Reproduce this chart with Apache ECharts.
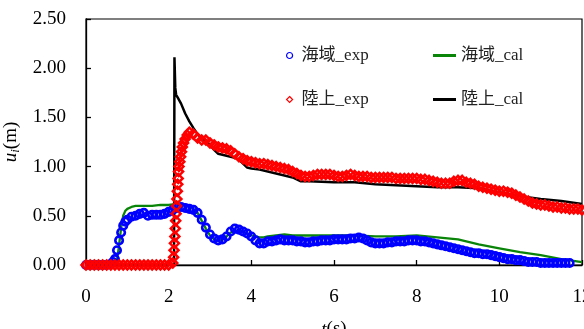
<!DOCTYPE html>
<html>
<head>
<meta charset="utf-8">
<script src="https://cdn.jsdelivr.net/npm/echarts@6/dist/echarts.min.js"></script>
<style>html,body{margin:0;padding:0;background:#fff}#c{width:584px;height:329px}</style>
</head>
<body>
<div id="c"></div>
<script>
const seriesNames = ['海域_exp', '陸上_exp', '海域_cal', '陸上_cal'];
const xTicks = [0, 2, 4, 6, 8, 10, 12];
const yTicks = [0, 0.5, 1.0, 1.5, 2.0, 2.5];

// 海域_exp (t, u)
const seaExp = [
[0.0,0],[0.1,0],[0.2,0],[0.3,0],[0.4,0],[0.5,0],[0.6,0.01],[0.65,0.03],[0.7,0.06],[0.75,0.15],[0.8,0.25],[0.85,0.33],[0.9,0.40],[0.95,0.44],[1.0,0.46],
[1.1,0.49],[1.2,0.50],[1.3,0.52],[1.4,0.53],[1.5,0.50],[1.6,0.51],[1.7,0.51],[1.8,0.51],[1.9,0.52],[2.0,0.54],[2.1,0.56],[2.2,0.58],[2.3,0.59],[2.4,0.58],
[2.5,0.57],[2.6,0.56],[2.7,0.53],[2.8,0.46],[2.9,0.38],[3.0,0.31],[3.1,0.27],[3.2,0.25],[3.3,0.26],[3.4,0.29],[3.5,0.34],[3.6,0.37],[3.7,0.36],[3.8,0.34],
[3.9,0.32],[4.0,0.29],[4.1,0.25],[4.2,0.22],[4.3,0.22],[4.4,0.24],[4.5,0.24],[4.6,0.25],[4.7,0.26],[4.8,0.25],[4.9,0.25],[5.0,0.25],[5.1,0.24],[5.2,0.24],
[5.3,0.23],[5.4,0.23],[5.5,0.24],[5.6,0.24],[5.7,0.25],[5.8,0.25],[5.9,0.25],[6.0,0.26],[6.1,0.26],[6.2,0.26],[6.3,0.26],[6.4,0.27],[6.5,0.27],[6.6,0.28],
[6.7,0.27],[6.8,0.25],[6.9,0.23],[7.0,0.22],[7.1,0.22],[7.2,0.22],[7.3,0.23],[7.4,0.23],[7.5,0.24],[7.6,0.24],[7.7,0.24],[7.8,0.25],[7.9,0.25],[8.0,0.25],
[8.1,0.24],[8.2,0.24],[8.3,0.23],[8.4,0.22],[8.5,0.21],[8.6,0.20],[8.7,0.19],[8.8,0.18],[8.9,0.17],[9.0,0.16],[9.1,0.15],[9.2,0.14],[9.3,0.13],[9.4,0.12],
[9.5,0.12],[9.6,0.11],[9.7,0.11],[9.8,0.10],[9.9,0.09],[10.0,0.08],[10.1,0.07],[10.2,0.06],[10.3,0.06],[10.4,0.05],[10.5,0.05],[10.6,0.04],[10.7,0.03],
[10.8,0.03],[10.9,0.03],[11.0,0.02],[11.1,0.02],[11.2,0.02],[11.3,0.02],[11.4,0.02],[11.5,0.02],[11.6,0.02],[11.7,0.02]
];

// 陸上_exp (t, u)
const landExp = [
[0.0,0],[0.1,0],[0.2,0],[0.3,0],[0.4,0],[0.5,0],[0.6,0],[0.7,0],[0.8,0],[0.9,0],[1.0,0],[1.1,0],[1.2,0],[1.3,0],[1.4,0],[1.5,0],[1.6,0],[1.7,0],[1.8,0],
[1.9,0],[2.0,0],[2.1,0.02],[2.12,0.08],[2.13,0.15],[2.14,0.22],[2.15,0.29],[2.16,0.37],[2.17,0.45],[2.18,0.52],[2.19,0.60],[2.2,0.67],[2.21,0.75],[2.22,0.82],
[2.23,0.88],[2.24,0.95],[2.25,1.00],[2.27,1.05],[2.29,1.10],[2.31,1.15],[2.33,1.20],[2.36,1.24],[2.4,1.28],[2.45,1.32],[2.5,1.35],[2.6,1.33],[2.7,1.29],
[2.8,1.27],[2.9,1.27],[3.0,1.24],[3.1,1.22],[3.2,1.20],[3.3,1.19],[3.4,1.18],[3.5,1.16],[3.6,1.13],[3.7,1.10],[3.8,1.08],[3.9,1.06],[4.0,1.05],[4.1,1.04],
[4.2,1.03],[4.3,1.03],[4.4,1.02],[4.5,1.01],[4.6,1.00],[4.7,0.99],[4.8,0.98],[4.9,0.97],[5.0,0.95],[5.1,0.93],[5.2,0.91],[5.3,0.90],[5.4,0.90],[5.5,0.91],
[5.6,0.92],[5.7,0.92],[5.8,0.92],[5.9,0.92],[6.0,0.91],[6.1,0.90],[6.2,0.90],[6.3,0.91],[6.4,0.92],[6.5,0.91],[6.6,0.90],[6.7,0.90],[6.8,0.90],[6.9,0.89],
[7.0,0.89],[7.1,0.89],[7.2,0.89],[7.3,0.89],[7.4,0.89],[7.5,0.88],[7.6,0.88],[7.7,0.88],[7.8,0.88],[7.9,0.88],[8.0,0.88],[8.1,0.87],[8.2,0.87],[8.3,0.86],
[8.4,0.85],[8.5,0.84],[8.6,0.83],[8.7,0.83],[8.8,0.83],[8.9,0.85],[9.0,0.86],[9.1,0.86],[9.2,0.84],[9.3,0.83],[9.4,0.82],[9.5,0.80],[9.6,0.79],[9.7,0.78],
[9.8,0.77],[9.9,0.76],[10.0,0.75],[10.1,0.75],[10.2,0.74],[10.3,0.73],[10.4,0.71],[10.5,0.69],[10.6,0.67],[10.7,0.65],[10.8,0.63],[10.9,0.62],[11.0,0.61],
[11.1,0.61],[11.2,0.60],[11.3,0.59],[11.4,0.59],[11.5,0.58],[11.6,0.58],[11.7,0.57],[11.8,0.57],[11.9,0.57],[12.0,0.56]
];

// 海域_cal (t, u)
const seaCal = [
[0,0],[0.7,0],[0.75,0.05],[0.8,0.2],[0.85,0.38],[0.9,0.5],[0.95,0.55],[1.0,0.57],[1.1,0.59],[1.2,0.60],[1.4,0.60],[1.6,0.60],[1.8,0.61],[2.0,0.61],
[2.2,0.62],[2.3,0.61],[2.4,0.60],[2.5,0.59],[2.6,0.57],[2.7,0.53],[2.8,0.45],[2.9,0.37],[3.0,0.30],[3.1,0.26],[3.2,0.25],[3.3,0.26],[3.4,0.29],[3.5,0.33],
[3.6,0.35],[3.7,0.35],[3.8,0.34],[3.9,0.32],[4.0,0.30],[4.1,0.29],[4.2,0.28],[4.3,0.28],[4.4,0.29],[4.6,0.30],[4.8,0.31],[5.0,0.30],[5.5,0.30],[6.0,0.30],
[6.5,0.30],[7.0,0.29],[7.5,0.29],[8.0,0.30],[8.5,0.28],[9.0,0.26],[9.5,0.21],[10.0,0.17],[10.5,0.13],[11.0,0.10],[11.5,0.06],[12.0,0.03]
];

// 陸上_cal (t, u)
const landCal = [
[0,0],[2.13,0],[2.14,2.11],[2.16,1.80],[2.18,1.73],[2.22,1.70],[2.3,1.64],[2.4,1.54],[2.5,1.46],[2.6,1.39],[2.7,1.33],[2.8,1.29],[2.9,1.26],[3.0,1.22],
[3.1,1.17],[3.2,1.13],[3.3,1.12],[3.4,1.11],[3.5,1.10],[3.6,1.09],[3.7,1.07],[3.8,1.03],[3.9,0.99],[4.0,0.98],[4.2,0.97],[4.4,0.95],[4.6,0.93],[4.8,0.91],
[5.0,0.89],[5.2,0.85],[5.4,0.85],[6.0,0.84],[6.5,0.84],[7.0,0.82],[7.5,0.81],[8.0,0.80],[8.5,0.79],[9.0,0.79],[9.5,0.78],[10.0,0.74],[10.5,0.70],
[11.0,0.67],[11.5,0.65],[12.0,0.62]
];

const serif = '"Liberation Serif","Times New Roman","Noto Sans CJK JP",serif';
const chart = echarts.init(document.getElementById('c'), null, {renderer: 'canvas'});
chart.setOption({
  animation: false,
  backgroundColor: '#fff',
  textStyle: {fontFamily: serif},
  grid: {left: 86, right: 2, top: 19, bottom: 64, show: true, borderColor: '#000', borderWidth: 1.2,
         containLabel: false, outerBoundsMode: 'none'},
  legend: [
    {
      data: [{name: seriesNames[0]}, {name: seriesNames[1]}],
      orient: 'vertical', left: 281, top: 42, itemGap: 27,
      itemWidth: 6, itemHeight: 6,
      itemStyle: {borderWidth: 1.2},
      textStyle: {fontFamily: serif, fontSize: 17, color: '#222', padding: [0, 0, 0, 4]}
    },
    {
      data: [{name: seriesNames[2], icon: 'rect'}, {name: seriesNames[3], icon: 'rect'}],
      orient: 'vertical', left: 428, top: 42, itemGap: 27,
      itemWidth: 23, itemHeight: 3,
      textStyle: {fontFamily: serif, fontSize: 17, color: '#222', padding: [0, 0, 0, 0]}
    }
  ],
  xAxis: {
    type: 'value', min: xTicks[0], max: xTicks[xTicks.length - 1], interval: 2,
    name: '{i|t}(s)', nameLocation: 'middle', nameGap: 55,
    nameTextStyle: {fontFamily: serif, fontSize: 19, color: '#000', rich: {i: {fontStyle: 'italic', fontFamily: serif, fontSize: 19}}},
    axisLine: {lineStyle: {color: '#000', width: 1.3}},
    axisTick: {inside: true, length: 5, lineStyle: {color: '#000', width: 1.3}},
    axisLabel: {fontFamily: serif, fontSize: 19, color: '#000', margin: 23},
    splitLine: {show: false}
  },
  yAxis: {
    type: 'value', min: yTicks[0], max: yTicks[yTicks.length - 1], interval: 0.5,
    name: '{i|u}{s|i}(m)', nameLocation: 'middle', nameGap: 55,
    nameTextStyle: {fontFamily: serif, fontSize: 19, color: '#000',
      rich: {i: {fontStyle: 'italic', fontFamily: serif, fontSize: 19}, s: {fontStyle: 'italic', fontFamily: serif, fontSize: 13, verticalAlign: 'bottom', padding: [8, 0, 0, 0]}}},
    axisLine: {show: true, lineStyle: {color: '#000', width: 1.3}},
    axisTick: {show: true, inside: true, length: 5, lineStyle: {color: '#000', width: 1.3}},
    axisLabel: {fontFamily: serif, fontSize: 19, color: '#000', margin: 20, formatter: v => v.toFixed(2)},
    splitLine: {show: false}
  },
  series: [
    {name: seriesNames[2], type: 'line', data: seaCal, showSymbol: false, symbol: 'none', z: 2,
     lineStyle: {color: '#0a850a', width: 2.3}, itemStyle: {color: '#0a850a'}},
    {name: seriesNames[3], type: 'line', data: landCal, showSymbol: false, symbol: 'none', z: 3,
     lineStyle: {color: '#000', width: 2.5}, itemStyle: {color: '#000'}},
    {name: seriesNames[0], type: 'scatter', data: seaExp, symbol: 'circle', symbolSize: 7.5, z: 4,
     itemStyle: {color: 'rgba(255,255,255,0)', borderColor: '#0000ff', borderWidth: 2.6, opacity: 1}},
    {name: seriesNames[1], type: 'scatter', data: landExp, symbol: 'diamond', symbolSize: 9, z: 5,
     itemStyle: {color: 'rgba(255,255,255,0)', borderColor: '#ff0000', borderWidth: 2.5, opacity: 1}}
  ]
});
</script>
</body>
</html>
